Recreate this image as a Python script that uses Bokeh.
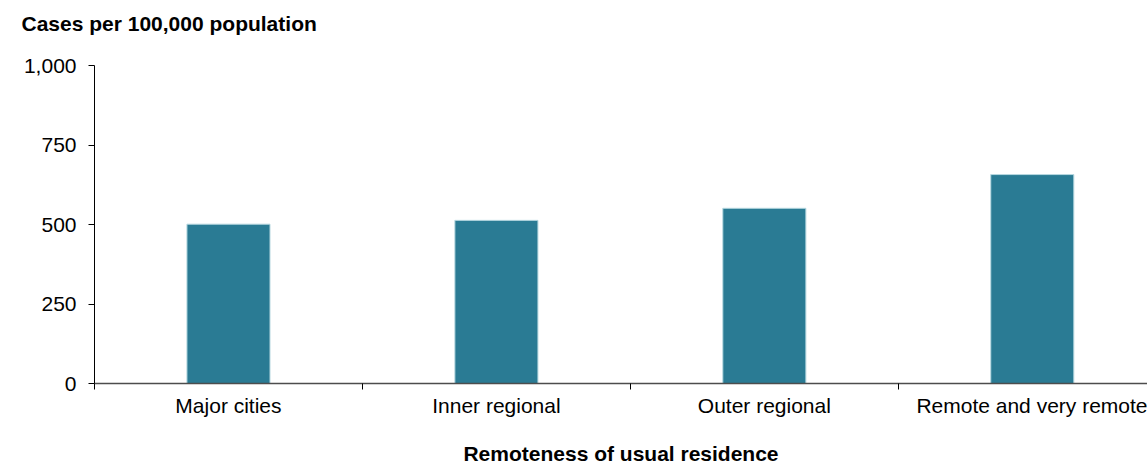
from bokeh.plotting import figure
from bokeh.models import Range1d, FixedTicker, NumeralTickFormatter, Title
from bokeh.embed import file_html
from bokeh.resources import INLINE

categories = ["Major cities", "Inner regional", "Outer regional", "Remote and very remote"]
rates = [501, 513, 551, 657]
y_ticks = [0, 250, 500, 750, 1000]

x_pos = [i + 0.5 for i in range(len(categories))]
boundaries = list(range(len(categories) + 1))

FONT = "Liberation Sans"

p = figure(width=1147, height=467, output_backend="svg", toolbar_location=None,
           x_range=Range1d(0, 3.93), y_range=Range1d(0, 1000),
           title="Cases per 100,000 population",
           min_border_left=94, min_border_right=0, min_border_bottom=84, min_border_top=65)

p.vbar(x=x_pos, top=rates, width=0.31, bottom=0,
       fill_color="#2a7b94", line_color="#b7d8e0", line_width=1)

p.grid.visible = False
p.outline_line_color = None
p.background_fill_color = "white"
p.border_fill_color = "white"

# spacer between title and frame
p.add_layout(Title(text=" ", text_font_size="2px", standoff=27), "above")

# title
p.title.text_font = FONT
p.title.text_font_size = "21px"
p.title.text_font_style = "bold"
p.title.text_color = "#000000"
p.title.text_line_height = 1.0
p.title.align = "left"
p.title.offset = -73
p.title.standoff = 0

# y axis
ya = p.yaxis[0]
ya.ticker = FixedTicker(ticks=y_ticks)
ya.formatter = NumeralTickFormatter(format="0,0")
ya.major_label_text_font = FONT
ya.major_label_text_font_size = "21px"
ya.major_label_text_color = "#000000"
ya.major_label_standoff = 12
ya.major_tick_in = 0
ya.major_tick_out = 6
ya.minor_tick_line_color = None
ya.axis_line_color = "#000000"
ya.major_tick_line_color = "#000000"

# x axis
xa = p.xaxis[0]
xa.ticker = FixedTicker(ticks=x_pos, minor_ticks=boundaries)
xa.major_label_overrides = {x: c for x, c in zip(x_pos, categories)}
xa.major_label_text_font = FONT
xa.major_label_text_font_size = "21px"
xa.major_label_text_color = "#000000"
xa.major_label_text_line_height = 1.0
xa.major_label_standoff = 4
xa.major_tick_in = 0
xa.major_tick_out = 6
xa.major_tick_line_color = None
xa.minor_tick_in = 0
xa.minor_tick_out = 6
xa.minor_tick_line_color = "#000000"
xa.axis_line_color = "#4d4d4d"
xa.axis_line_width = 1.5
xa.axis_label = "Remoteness of usual residence"
xa.axis_label_text_font = FONT
xa.axis_label_text_font_size = "21px"
xa.axis_label_text_font_style = "bold"
xa.axis_label_text_color = "#000000"
xa.axis_label_text_line_height = 1.0
xa.axis_label_standoff = 22

open("out.html", "w").write(file_html(p, INLINE))
